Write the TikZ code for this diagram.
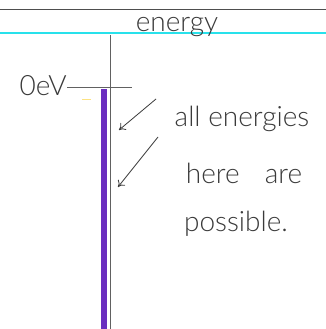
\documentclass[tikz,border=0pt]{standalone}
\usepackage{fontspec}
\setmainfont{Lato Light}
\usetikzlibrary{arrows.meta}
\definecolor{pen}{HTML}{3A3A3A}
\definecolor{barpurple}{HTML}{6A2EBF}
\definecolor{mycyan}{RGB}{40,225,235}
\tikzset{
  pentext/.style={text=pen, font=\fontsize{28}{32}\selectfont, inner sep=0pt},
  axis/.style={draw=pen!80, line width=0.8pt},
  pointer/.style={draw=pen, line width=0.8pt, -{To[length=6pt,width=9pt]}}
}
\begin{document}
\begin{tikzpicture}[x=1pt,y=-1pt]
\useasboundingbox[fill=white] (0,0) rectangle (326,329);
% top rule
\draw[draw=pen!90, line width=0.8pt] (0,9) -- (326,9);
% cyan line
\fill[mycyan] (0,32.5) rectangle (326,34.5);
\node[pentext, anchor=base] (energy) at (177,32) {energy};
% axis
\coordinate (axtop) at (110,35);
\coordinate (axbot) at (110,329);
\draw[axis] (axtop) -- (axbot);
% zero level
\coordinate (zl) at (67,87);
\coordinate (zr) at (132,87);
\draw[axis] (zl) -- (zr);
\node[pentext, anchor=east] (zero) at (67,86) {0eV};
% purple band
\coordinate (btop) at (104,89);
\coordinate (bbot) at (104,329);
\draw[barpurple, line width=6.5pt] (btop) -- (bbot);
\draw[yellow!60!orange, line width=1pt, opacity=0.5] (82,99) -- (91,99);
% labels
\node[pentext] (all) at (242,119) {all energies};
\node[pentext] (here) at (244,173) {here\hspace{0.9em}are};
\node[pentext] (poss) at (236,224) {possible.};
% arrows
\coordinate (a1s) at (156,99);
\coordinate (a1e) at (119,130);
\coordinate (a2s) at (158,137);
\coordinate (a2e) at (118,187);
\draw[pointer] (a1s) -- (a1e);
\draw[pointer] (a2s) -- (a2e);
\end{tikzpicture}
\end{document}
